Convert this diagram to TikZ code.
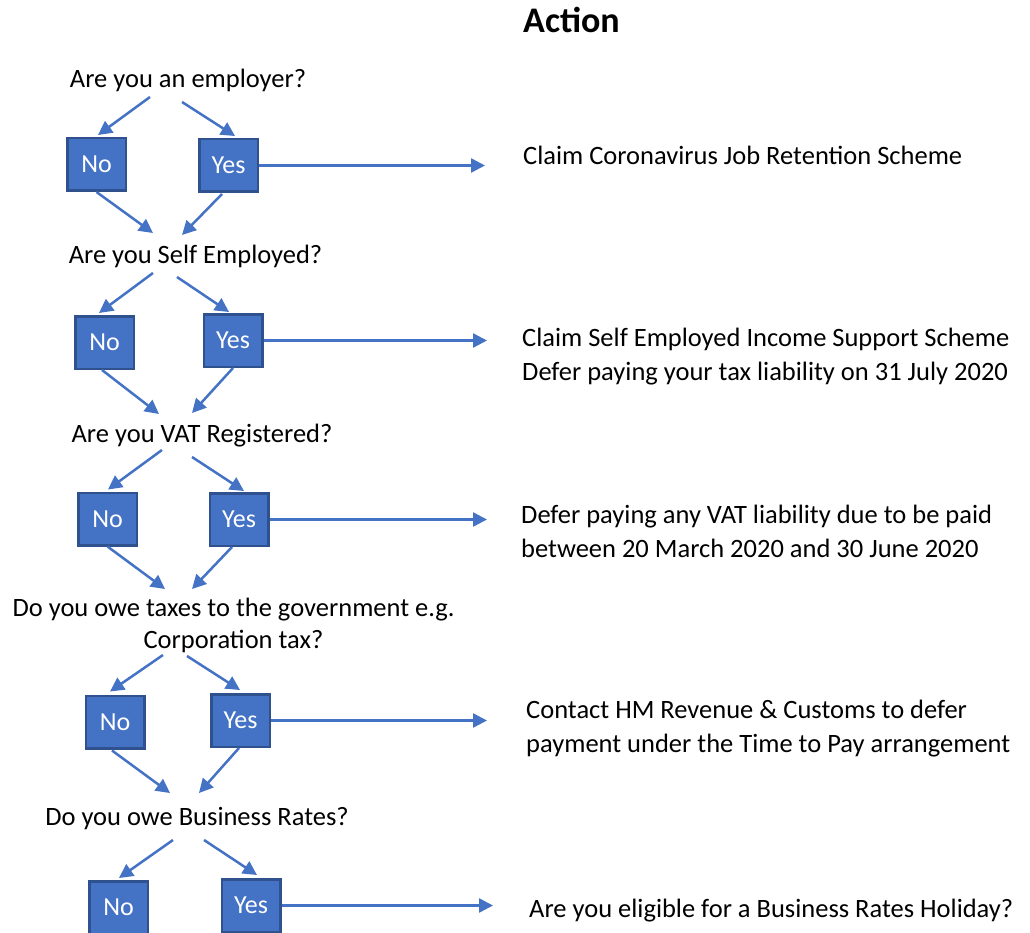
\documentclass[tikz,border=0pt]{standalone}
\usepackage{fontspec}
\setmainfont{Carlito}
\usepackage{tikz}
\usetikzlibrary{
	arrows.meta,
	positioning,
	calc
}
\definecolor{main}{RGB}{68,114,196}
\definecolor{mainedge}{RGB}{47,82,143}
\tikzset{
  % arrow
	cstra/.style      ={-{Triangle[length=14pt,width=14pt]}, line width=2.5pt, draw=main}, % right arrow
  % node
	cstask/.style     ={inner sep=0pt, anchor=base, align=center, font=\fontsize{26.5}{32}\selectfont}, % question
	cstact/.style     ={inner sep=0pt, anchor=base west, align=left, font=\fontsize{26.5}{34}\selectfont}, % action
	cstbox/.style     ={fill=main, draw=mainedge, text=white, line width=2.5pt, inner sep=0pt,
	                    minimum width=58.5pt, minimum height=52.5pt, font=\fontsize{26}{30}\selectfont}
}
\begin{document}
\begin{tikzpicture}[x=1pt,y=1pt]
	\useasboundingbox (0,0) rectangle (1030,-933);
	\node[cstact,font=\fontsize{36}{40}\selectfont\bfseries] (head) at (523,-33) {Action};
	% questions (base = last line)
	\node[cstask] (q1) at (188,-88) {Are you an employer?};
	\node[cstask] (q2) at (195.5,-263) {Are you Self Employed?};
	\node[cstask] (q3) at (202,-442) {Are you VAT Registered?};
	\node[cstask] (q4) at (233.5,-648) {Do you owe taxes to the government e.g.\\Corporation tax?};
	\node[cstask] (q5) at (197,-825) {Do you owe Business Rates?};
	% answers
	\node[cstbox] (no1) at (96.5,-164.5) {No};
	\node[cstbox] (yes1) at (228.5,-165.5) {Yes};
	\node[cstbox] (no2) at (104.5,-342.5) {No};
	\node[cstbox] (yes2) at (233,-340.5) {Yes};
	\node[cstbox] (no3) at (107.5,-519) {No};
	\node[cstbox] (yes3) at (239,-519.5) {Yes};
	\node[cstbox] (no4) at (115,-722) {No};
	\node[cstbox] (yes4) at (240.5,-720.5) {Yes};
	\node[cstbox] (no5) at (118.5,-907.5) {No};
	\node[cstbox] (yes5) at (251,-905.5) {Yes};
	% actions
	\node[cstact] (a1) at (523,-165) {Claim Coronavirus Job Retention Scheme};
	\node[cstact] (a2) at (522,-380) {Claim Self Employed Income Support Scheme\\Defer paying your tax liability on 31 July 2020};
	\node[cstact] (a3) at (521,-557) {Defer paying any VAT liability due to be paid\\between 20 March 2020 and 30 June 2020};
	\node[cstact] (a4) at (526,-752) {Contact HM Revenue \& Customs to defer\\payment under the Time to Pay arrangement};
	\node[cstact] (a5) at (529,-917) {Are you eligible for a Business Rates Holiday?};
	% question -> answers
	\draw[cstra] ($(q1.base)+(-38,-9)$) -- ($(no1.north)+(1.5,2)$);
	\draw[cstra] ($(q1.base)+(-6,-14)$) -- ($(yes1.north)+(6.5,2)$);
	\draw[cstra] ($(q2.base)+(-42.5,-10)$) -- ($(no2.north)+(-5.5,2)$);
	\draw[cstra] ($(q2.base)+(-18.5,-14)$) -- ($(yes2.north)+(-4,1)$);
	\draw[cstra] ($(q3.base)+(-40,-8)$) -- ($(no3.north)+(0.5,2)$);
	\draw[cstra] ($(q3.base)+(-10,-15)$) -- ($(yes3.north)+(5,1)$);
	\draw[cstra] ($(q4.base)+(-70.5,-7)$) -- ($(no4.north)+(-5,3)$);
	\draw[cstra] ($(q4.base)+(-46.5,-8)$) -- ($(yes4.north)+(-0.5,3)$);
	\draw[cstra] ($(q5.base)+(-24,-15)$) -- ($(no5.north)+(0.5,2)$);
	\draw[cstra] ($(q5.base)+(7,-15)$) -- ($(yes5.north)+(6,3)$);
	% answers -> next question
	\draw[cstra] (no1.south) -- ($(q2.base)+(-42.5,30)$);
	\draw[cstra] ($(yes1.south)+(-6.5,-1)$) -- ($(q2.base)+(-13.5,28)$);
	\draw[cstra] ($(no2.south)+(-2.5,0)$) -- ($(q3.base)+(-43,28)$);
	\draw[cstra] (yes2.south) -- ($(q3.base)+(-10,29)$);
	\draw[cstra] (no3.south) -- ($(q4.base)+(-68.5,59)$);
	\draw[cstra] ($(yes3.south)+(-7,0)$) -- ($(q4.base)+(-41.5,59)$);
	\draw[cstra] ($(no4.south)+(-3,-1)$) -- ($(q5.base)+(-27,32)$);
	\draw[cstra] ($(yes4.south)+(-1.5,0)$) -- ($(q5.base)+(2,32)$);
	% yes -> action
	\draw[cstra] (yes1.east) -- ($(yes1.east -| a1.west)+(-38,0)$);
	\draw[cstra] (yes2.east) -- ($(yes2.east -| a2.west)+(-35,0)$);
	\draw[cstra] (yes3.east) -- ($(yes3.east -| a3.west)+(-34,0)$);
	\draw[cstra] (yes4.east) -- ($(yes4.east -| a4.west)+(-39,0)$);
	\draw[cstra] (yes5.east) -- ($(yes5.east -| a5.west)+(-36,0)$);
\end{tikzpicture}
\end{document}
